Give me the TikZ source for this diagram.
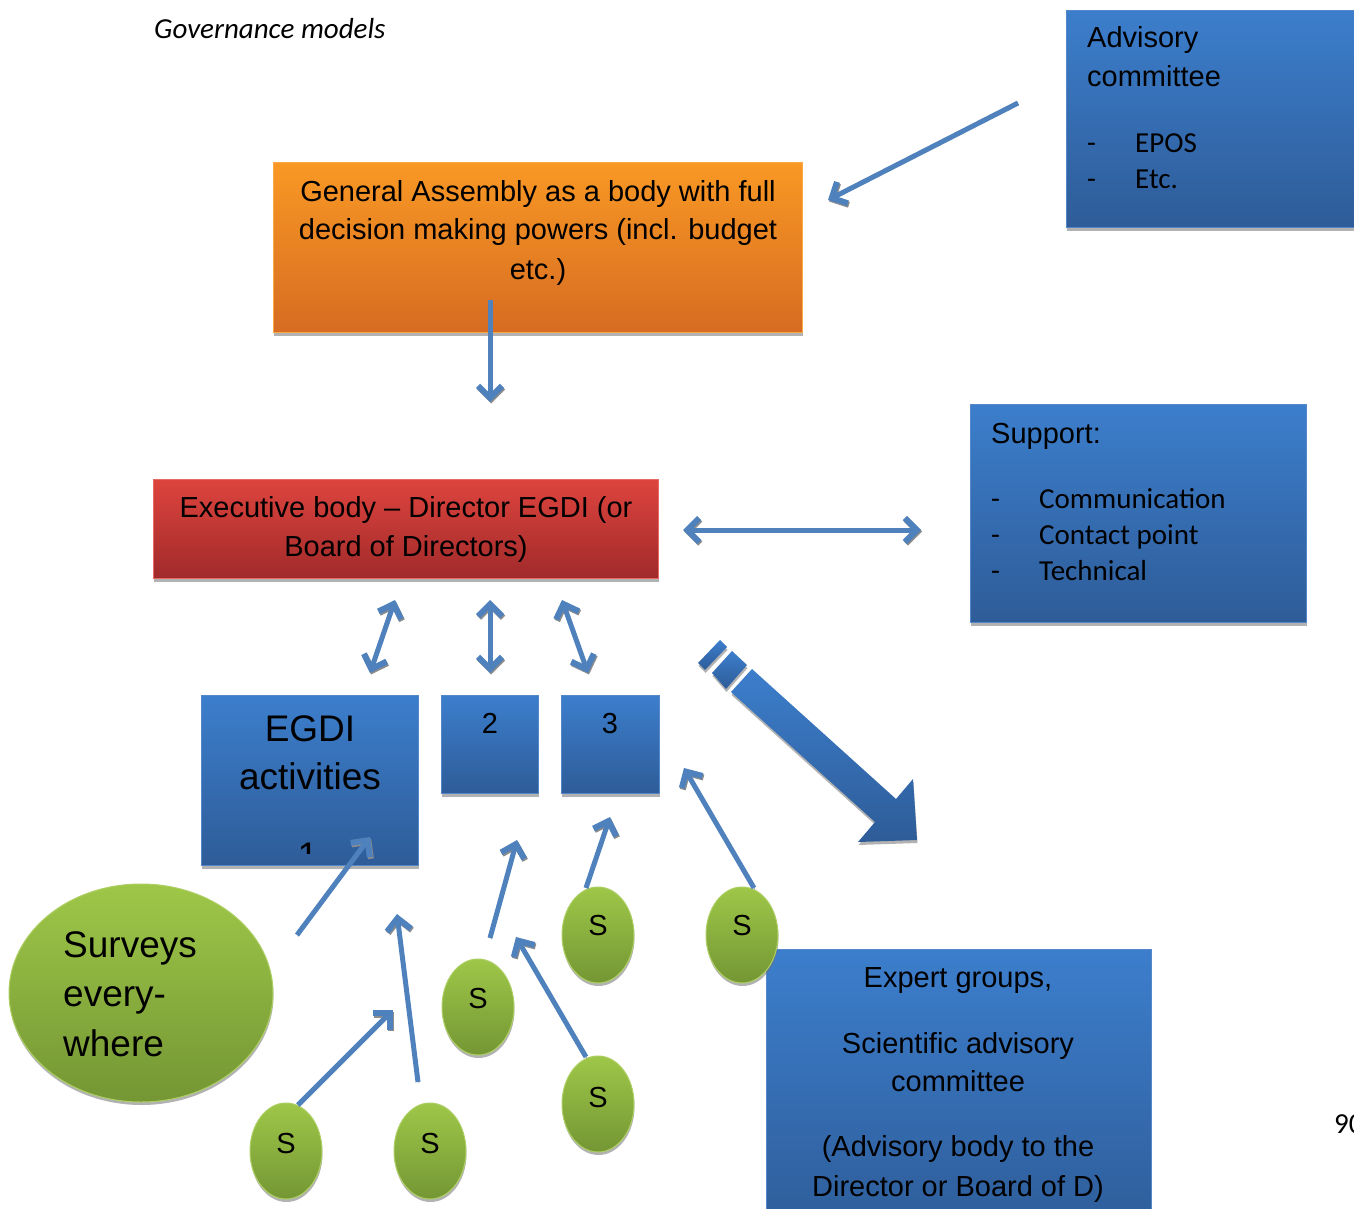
\documentclass[tikz,border=0pt]{standalone}
\usepackage{fontspec}
\setmainfont{Liberation Sans}
\newfontfamily\calibrifam{Carlito}
\usetikzlibrary{arrows.meta,shapes.geometric,shadows}
\definecolor{arrowblue}{RGB}{79,129,189}
\definecolor{bluetop}{RGB}{60,126,204}
\definecolor{bluebot}{RGB}{46,92,152}
\definecolor{blueedge}{RGB}{84,136,200}
\definecolor{orangetop}{RGB}{249,152,36}
\definecolor{orangebot}{RGB}{214,108,34}
\definecolor{redtop}{RGB}{222,68,62}
\definecolor{redbot}{RGB}{160,42,42}
\definecolor{greentop}{RGB}{158,199,72}
\definecolor{greenbot}{RGB}{116,150,52}
\newcommand\szA{\fontsize{29}{35}\selectfont}
\newcommand\szC{\calibrifam\fontsize{29}{35}\selectfont}
\newcommand\szB{\fontsize{37}{44}\selectfont}
\begin{document}
\begin{tikzpicture}[x=1pt,y=-1pt,
  shad/.style={drop shadow={shadow xshift=0.5pt,shadow yshift=-3pt,opacity=0.55,fill=black!55}},
  boxbase/.style={rectangle,anchor=north west,inner sep=0pt,line width=1pt,shad},
  bluebox/.style={boxbase,top color=bluetop,bottom color=bluebot,draw=blueedge},
  orangebox/.style={boxbase,top color=orangetop,bottom color=orangebot,draw=orangetop!85!white},
  redbox/.style={boxbase,top color=redtop,bottom color=redbot,draw=redtop!80!white},
  sbub/.style={ellipse,inner sep=0pt,minimum width=72pt,minimum height=96pt,top color=greentop,bottom color=greenbot,draw=greentop!85!white,line width=1pt,shad},
  txt/.style={inner sep=0pt,font=\szA},
  ctxt/.style={inner sep=0pt,font=\szC},
  btxt/.style={inner sep=0pt,font=\szB},
  arrshad/.style={preaction={draw=black!45,transform canvas={shift={(1pt,-1.5pt)}}}},
  conn/.style={draw=arrowblue,line width=5pt,arrshad,-{Straight Barb[length=12pt,width=24pt,line width=6pt]}},
  dconn/.style={draw=arrowblue,line width=5pt,arrshad,{Straight Barb[length=12pt,width=24pt,line width=6pt]}-{Straight Barb[length=12pt,width=24pt,line width=6pt]}}
]
\useasboundingbox (0,0) rectangle (1354,1209);
\fill[white] (0,0) rectangle (1354,1209);

% title
\node[inner sep=0pt,font=\calibrifam\itshape\fontsize{29}{35}\selectfont,anchor=base west] (title) at (154,39) {Governance models};
\node[ctxt,anchor=base west] (pagenum) at (1334,1133) {90};

% boxes
\node[bluebox,minimum width=300pt,minimum height=217pt] (adv) at (1066,10) {};
\node[orangebox,minimum width=529pt,minimum height=170pt] (ga) at (273,162) {};
\node[redbox,minimum width=505pt,minimum height=99pt] (exec) at (153,479) {};
\node[bluebox,minimum width=336pt,minimum height=218pt] (sup) at (970,404) {};
\node[bluebox,minimum width=217pt,minimum height=170pt] (egdi) at (201,695) {};
\node[bluebox,minimum width=97pt,minimum height=98pt] (b2) at (441,695) {};
\node[bluebox,minimum width=98pt,minimum height=98pt] (b3) at (561,695) {};
\node[bluebox,minimum width=385pt,minimum height=290pt] (exp) at (766,949) {};

% advisory text
\node[txt,anchor=base west] (advt1) at (1087,48) {Advisory};
\node[txt,anchor=base west] (advt2) at (1087,87) {committee};
\node[ctxt,anchor=base west] (advd1) at (1087,153) {-};
\node[ctxt,anchor=base west] (advt3) at (1135,153) {EPOS};
\node[ctxt,anchor=base west] (advd2) at (1087,189) {-};
\node[ctxt,anchor=base west] (advt4) at (1135,189) {Etc.};

% general assembly text
\node[txt,anchor=base] (gat1) at (538,201) {General Assembly as a body with full};
\node[txt,anchor=base] (gat2) at (538,240) {decision making powers (incl. budget};
\node[txt,anchor=base] (gat3) at (538,279) {etc.)};

% executive text
\node[txt,anchor=base] (ext1) at (406,517) {Executive body -- Director EGDI (or};
\node[txt,anchor=base] (ext2) at (406,556) {Board of Directors)};

% support text
\node[txt,anchor=base west] (supt1) at (991,443) {Support:};
\node[ctxt,anchor=base west] (supd1) at (991,508) {-};
\node[ctxt,anchor=base west] (supt2) at (1039,508) {Communication};
\node[ctxt,anchor=base west] (supd2) at (991,544) {-};
\node[ctxt,anchor=base west] (supt3) at (1039,544) {Contact point};
\node[ctxt,anchor=base west] (supd3) at (991,580) {-};
\node[ctxt,anchor=base west] (supt4) at (1039,580) {Technical};

% activity boxes text
\node[btxt,anchor=base] (egt1) at (310,741) {EGDI};
\node[btxt,anchor=base] (egt2) at (310,789) {activities};
\begin{scope}
  \clip (201,820) rectangle (418,853);
  \node[btxt,anchor=base] (egt3) at (308,868) {1};
\end{scope}
\node[txt,anchor=base] (b2t) at (490,733) {2};
\node[txt,anchor=base] (b3t) at (610,733) {3};

% expert text
\node[txt,anchor=base] (expt1) at (958,987) {Expert groups,};
\node[txt,anchor=base] (expt2) at (958,1053) {Scientific advisory};
\node[txt,anchor=base] (expt3) at (958,1091) {committee};
\node[txt,anchor=base] (expt4) at (958,1156) {(Advisory body to the};
\node[txt,anchor=base] (expt5) at (958,1196) {Director or Board of D)};

% surveys
\node[ellipse,inner sep=0pt,minimum width=264pt,minimum height=218pt,top color=greentop,bottom color=greenbot,draw=greentop!85!white,line width=1pt,shad] (surv) at (141,993) {};
\node[btxt,anchor=base west] (svt1) at (63,957) {Surveys};
\node[btxt,anchor=base west] (svt2) at (63,1006) {every-};
\node[btxt,anchor=base west] (svt3) at (63,1056) {where};

% S bubbles
\node[sbub] (s1) at (286,1151) {};
\node[sbub] (s2) at (430,1151) {};
\node[sbub] (s3) at (478,1007) {};
\node[sbub] (s4) at (598,1104) {};
\node[sbub] (s5) at (598,935) {};
\node[sbub] (s6) at (742,935) {};
\node[txt,anchor=base] (s1t) at (286,1153) {S};
\node[txt,anchor=base] (s2t) at (430,1153) {S};
\node[txt,anchor=base] (s3t) at (478,1008) {S};
\node[txt,anchor=base] (s4t) at (598,1107) {S};
\node[txt,anchor=base] (s5t) at (598,935) {S};
\node[txt,anchor=base] (s6t) at (742,935) {S};

% big striped arrow
\shade[top color=bluetop,bottom color=bluebot,shad]
  (752,669) -- (896,799) -- (913,779) -- (917,840) -- (858,842) -- (875,822) -- (731,692) -- cycle;
\shade[top color=bluetop,bottom color=bluebot,shad]
  (698,663) -- (720,640) -- (727,647) -- (705,670) -- cycle;
\shade[top color=bluetop,bottom color=bluebot,shad]
  (712,673) -- (732,651) -- (747,665) -- (726,689) -- cycle;

% connector end points
\coordinate (acT) at (1018,103);
\coordinate (acH) at (828,200);
\coordinate (gaT) at (490,300);
\coordinate (gaH) at (490,402);
\coordinate (exR) at (683,530);
\coordinate (spL) at (921,530);
\coordinate (d1a) at (395,600);
\coordinate (d1b) at (370,673);
\coordinate (d2a) at (490,600);
\coordinate (d2b) at (490,673);
\coordinate (d3a) at (562,600);
\coordinate (d3b) at (588,673);
\coordinate (gT) at (297,935);
\coordinate (gH) at (370,837);
\coordinate (cT) at (490,938);
\coordinate (cH) at (517,840);
\coordinate (eT) at (586,888);
\coordinate (eH) at (610,817);
\coordinate (fT) at (754,888);
\coordinate (fH) at (684,768);
\coordinate (aT) at (298,1105);
\coordinate (aH) at (393,1010);
\coordinate (bT) at (418,1082);
\coordinate (bH) at (397,914);
\coordinate (dT) at (586,1057);
\coordinate (dH) at (516,937);

\draw[conn] (acT) -- (acH);
\draw[conn] (gaT) -- (gaH);
\draw[dconn] (exR) -- (spL);
\draw[dconn] (d1a) -- (d1b);
\draw[dconn] (d2a) -- (d2b);
\draw[dconn] (d3a) -- (d3b);
\draw[conn] (gT) -- (gH);
\draw[conn] (cT) -- (cH);
\draw[conn] (eT) -- (eH);
\draw[conn] (fT) -- (fH);
\draw[conn] (aT) -- (aH);
\draw[conn] (bT) -- (bH);
\draw[conn] (dT) -- (dH);
\end{tikzpicture}
\end{document}
